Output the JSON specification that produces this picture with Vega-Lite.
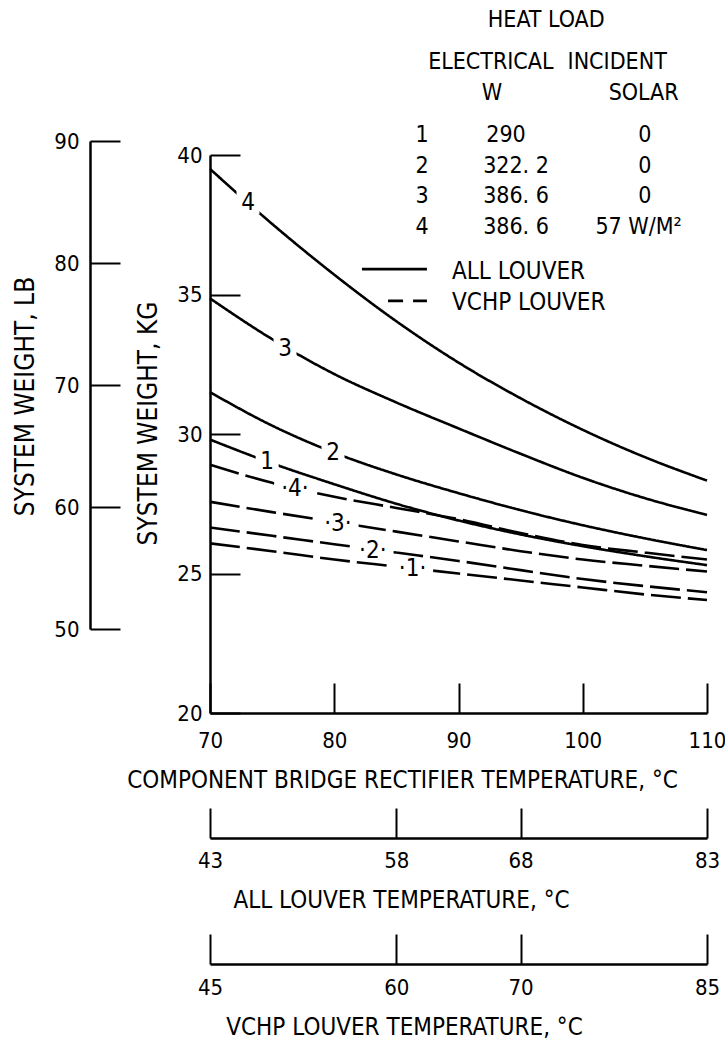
{
  "$schema": "https://vega.github.io/schema/vega-lite/v6.json",
  "width": 497,
  "height": 558,
  "autosize": {"type": "none"},
  "padding": {"left": 210, "top": 155, "right": 18, "bottom": 332},
  "background": "white",
  "config": {
    "view": {"stroke": null},
    "font": "DejaVu Sans Condensed, Liberation Sans Narrow, Roboto, sans-serif",
    "text": {"font": "DejaVu Sans Condensed, Liberation Sans Narrow, Roboto, sans-serif", "color": "black"},
    "axis": {
      "labelFont": "DejaVu Sans Condensed, Liberation Sans Narrow, Roboto, sans-serif",
      "titleFont": "DejaVu Sans Condensed, Liberation Sans Narrow, Roboto, sans-serif",
      "labelColor": "black",
      "titleColor": "black",
      "domainColor": "black",
      "tickColor": "black",
      "grid": false,
      "labelFontSize": 22,
      "titleFontSize": 24,
      "titleFontWeight": "normal",
      "domainWidth": 2.5,
      "tickWidth": 2,
      "labelFlush": false,
      "labelOverlap": false
    }
  },
  "datasets": {
    "curves": [
      {"T": 70, "kg": 39.5, "curve": "S4", "type": "ALL"},
      {"T": 75, "kg": 37.53, "curve": "S4", "type": "ALL"},
      {"T": 80, "kg": 35.71, "curve": "S4", "type": "ALL"},
      {"T": 85, "kg": 34.04, "curve": "S4", "type": "ALL"},
      {"T": 90, "kg": 32.56, "curve": "S4", "type": "ALL"},
      {"T": 95, "kg": 31.28, "curve": "S4", "type": "ALL"},
      {"T": 100, "kg": 30.15, "curve": "S4", "type": "ALL"},
      {"T": 105, "kg": 29.17, "curve": "S4", "type": "ALL"},
      {"T": 110, "kg": 28.33, "curve": "S4", "type": "ALL"},
      {"T": 70, "kg": 34.86, "curve": "S3", "type": "ALL"},
      {"T": 75, "kg": 33.4, "curve": "S3", "type": "ALL"},
      {"T": 80, "kg": 32.15, "curve": "S3", "type": "ALL"},
      {"T": 85, "kg": 31.13, "curve": "S3", "type": "ALL"},
      {"T": 90, "kg": 30.2, "curve": "S3", "type": "ALL"},
      {"T": 95, "kg": 29.29, "curve": "S3", "type": "ALL"},
      {"T": 100, "kg": 28.43, "curve": "S3", "type": "ALL"},
      {"T": 105, "kg": 27.7, "curve": "S3", "type": "ALL"},
      {"T": 110, "kg": 27.1, "curve": "S3", "type": "ALL"},
      {"T": 70, "kg": 31.5, "curve": "S2", "type": "ALL"},
      {"T": 75, "kg": 30.3, "curve": "S2", "type": "ALL"},
      {"T": 80, "kg": 29.33, "curve": "S2", "type": "ALL"},
      {"T": 85, "kg": 28.55, "curve": "S2", "type": "ALL"},
      {"T": 90, "kg": 27.88, "curve": "S2", "type": "ALL"},
      {"T": 95, "kg": 27.27, "curve": "S2", "type": "ALL"},
      {"T": 100, "kg": 26.73, "curve": "S2", "type": "ALL"},
      {"T": 105, "kg": 26.26, "curve": "S2", "type": "ALL"},
      {"T": 110, "kg": 25.84, "curve": "S2", "type": "ALL"},
      {"T": 70, "kg": 29.8, "curve": "S1", "type": "ALL"},
      {"T": 75, "kg": 28.95, "curve": "S1", "type": "ALL"},
      {"T": 80, "kg": 28.2, "curve": "S1", "type": "ALL"},
      {"T": 85, "kg": 27.5, "curve": "S1", "type": "ALL"},
      {"T": 90, "kg": 26.9, "curve": "S1", "type": "ALL"},
      {"T": 95, "kg": 26.4, "curve": "S1", "type": "ALL"},
      {"T": 100, "kg": 25.98, "curve": "S1", "type": "ALL"},
      {"T": 105, "kg": 25.62, "curve": "S1", "type": "ALL"},
      {"T": 110, "kg": 25.3, "curve": "S1", "type": "ALL"},
      {"T": 70, "kg": 28.9, "curve": "D4", "type": "VCHP"},
      {"T": 75, "kg": 28.25, "curve": "D4", "type": "VCHP"},
      {"T": 80, "kg": 27.75, "curve": "D4", "type": "VCHP"},
      {"T": 85, "kg": 27.35, "curve": "D4", "type": "VCHP"},
      {"T": 90, "kg": 26.95, "curve": "D4", "type": "VCHP"},
      {"T": 95, "kg": 26.45, "curve": "D4", "type": "VCHP"},
      {"T": 100, "kg": 26.02, "curve": "D4", "type": "VCHP"},
      {"T": 105, "kg": 25.75, "curve": "D4", "type": "VCHP"},
      {"T": 110, "kg": 25.5, "curve": "D4", "type": "VCHP"},
      {"T": 70, "kg": 27.57, "curve": "D3", "type": "VCHP"},
      {"T": 75, "kg": 27.2, "curve": "D3", "type": "VCHP"},
      {"T": 80, "kg": 26.85, "curve": "D3", "type": "VCHP"},
      {"T": 85, "kg": 26.5, "curve": "D3", "type": "VCHP"},
      {"T": 90, "kg": 26.15, "curve": "D3", "type": "VCHP"},
      {"T": 95, "kg": 25.8, "curve": "D3", "type": "VCHP"},
      {"T": 100, "kg": 25.5, "curve": "D3", "type": "VCHP"},
      {"T": 105, "kg": 25.28, "curve": "D3", "type": "VCHP"},
      {"T": 110, "kg": 25.07, "curve": "D3", "type": "VCHP"},
      {"T": 70, "kg": 26.65, "curve": "D2", "type": "VCHP"},
      {"T": 75, "kg": 26.35, "curve": "D2", "type": "VCHP"},
      {"T": 80, "kg": 26.05, "curve": "D2", "type": "VCHP"},
      {"T": 85, "kg": 25.75, "curve": "D2", "type": "VCHP"},
      {"T": 90, "kg": 25.45, "curve": "D2", "type": "VCHP"},
      {"T": 95, "kg": 25.12, "curve": "D2", "type": "VCHP"},
      {"T": 100, "kg": 24.8, "curve": "D2", "type": "VCHP"},
      {"T": 105, "kg": 24.55, "curve": "D2", "type": "VCHP"},
      {"T": 110, "kg": 24.33, "curve": "D2", "type": "VCHP"},
      {"T": 70, "kg": 26.08, "curve": "D1", "type": "VCHP"},
      {"T": 75, "kg": 25.8, "curve": "D1", "type": "VCHP"},
      {"T": 80, "kg": 25.5, "curve": "D1", "type": "VCHP"},
      {"T": 85, "kg": 25.25, "curve": "D1", "type": "VCHP"},
      {"T": 90, "kg": 25.0, "curve": "D1", "type": "VCHP"},
      {"T": 95, "kg": 24.75, "curve": "D1", "type": "VCHP"},
      {"T": 100, "kg": 24.5, "curve": "D1", "type": "VCHP"},
      {"T": 105, "kg": 24.25, "curve": "D1", "type": "VCHP"},
      {"T": 110, "kg": 24.05, "curve": "D1", "type": "VCHP"}
    ],
    "labels": [
      {"T": 73.06, "kg": 38.3, "lab": "4", "type": "ALL"},
      {"T": 76.04, "kg": 33.07, "lab": "3", "type": "ALL"},
      {"T": 79.9, "kg": 29.35, "lab": "2", "type": "ALL"},
      {"T": 74.6, "kg": 29.05, "lab": "1", "type": "ALL"},
      {"T": 76.84, "kg": 28.05, "lab": "·4·", "type": "VCHP"},
      {"T": 80.3, "kg": 26.82, "lab": "·3·", "type": "VCHP"},
      {"T": 83.1, "kg": 25.85, "lab": "·2·", "type": "VCHP"},
      {"T": 86.3, "kg": 25.18, "lab": "·1·", "type": "VCHP"}
    ],
    "table": [
      {"T": 97.06, "kg": 44.84, "txt": "HEAT LOAD"},
      {"T": 92.6, "kg": 43.33, "txt": "ELECTRICAL"},
      {"T": 102.77, "kg": 43.33, "txt": "INCIDENT"},
      {"T": 92.7, "kg": 42.22, "txt": "W"},
      {"T": 104.9, "kg": 42.22, "txt": "SOLAR"},
      {"T": 87.06, "kg": 40.72, "txt": "1"},
      {"T": 93.82, "kg": 40.72, "txt": "290"},
      {"T": 105.0, "kg": 40.72, "txt": "0"},
      {"T": 87.06, "kg": 39.61, "txt": "2"},
      {"T": 94.63, "kg": 39.61, "txt": "322. 2"},
      {"T": 105.0, "kg": 39.61, "txt": "0"},
      {"T": 87.06, "kg": 38.53, "txt": "3"},
      {"T": 94.63, "kg": 38.53, "txt": "386. 6"},
      {"T": 105.0, "kg": 38.53, "txt": "0"},
      {"T": 87.06, "kg": 37.42, "txt": "4"},
      {"T": 94.63, "kg": 37.42, "txt": "386. 6"},
      {"T": 104.5, "kg": 37.42, "txt": "57 W/M²"}
    ],
    "legendText": [
      {"T": 89.48, "kg": 35.82, "txt": "ALL LOUVER"},
      {"T": 89.48, "kg": 34.7, "txt": "VCHP LOUVER"}
    ],
    "legendLines": [
      {"T": 82.23, "kg": 35.91, "type": "ALL"},
      {"T": 87.46, "kg": 35.91, "type": "ALL"},
      {"T": 84.33, "kg": 34.77, "type": "VCHP"},
      {"T": 87.46, "kg": 34.77, "type": "VCHP"}
    ],
    "lbAxis": [{"lb": 50}, {"lb": 90}],
    "allAxis": [{"allT": 43}, {"allT": 83}],
    "vchpAxis": [{"vchpT": 45}, {"vchpT": 85}]
  },
  "layer": [
    {
      "encoding": {
        "x": {
          "field": "T",
          "type": "quantitative",
          "scale": {"domain": [70, 110], "nice": false, "zero": false},
          "axis": {
            "orient": "bottom",
            "values": [70, 80, 90, 100, 110],
            "tickSize": -30,
            "labelPadding": 57,
            "labelBaseline": "middle",
            "title": "COMPONENT BRIDGE RECTIFIER TEMPERATURE, °C",
            "titleX": 192,
            "titleY": 67,
            "titleAlign": "center",
            "titleBaseline": "middle"
          }
        },
        "y": {
          "field": "kg",
          "type": "quantitative",
          "scale": {"domain": [20, 40], "nice": false, "zero": false},
          "axis": {
            "orient": "left",
            "values": [20, 25, 30, 35, 40],
            "tickSize": -30,
            "labelPadding": 38,
            "labelBaseline": "middle",
            "title": "SYSTEM WEIGHT, KG",
            "titleFontSize": 26,
            "titleX": -62,
            "titleY": 268,
            "titleAngle": 270,
            "titleAlign": "center",
            "titleBaseline": "middle"
          }
        }
      },
      "layer": [
        {
          "data": {"name": "curves"},
          "mark": {"type": "line", "color": "black", "strokeWidth": 2.6, "interpolate": "monotone"},
          "encoding": {
            "detail": {"field": "curve", "type": "nominal"},
            "strokeDash": {
              "field": "type",
              "type": "nominal",
              "scale": {"domain": ["ALL", "VCHP"], "range": [[1, 0], [30, 7]]},
              "legend": null
            }
          }
        },
        {
          "data": {"name": "labels"},
          "transform": [{"filter": "datum.type === 'ALL'"}],
          "mark": {"type": "point", "shape": "square", "filled": true, "color": "white", "opacity": 1, "size": 529}
        },
        {
          "data": {"name": "labels"},
          "transform": [{"filter": "datum.type === 'VCHP'"}],
          "mark": {"type": "point", "shape": "M-1,-0.45H1V0.45H-1Z", "filled": true, "color": "white", "opacity": 1, "size": 1700}
        },
        {
          "data": {"name": "labels"},
          "mark": {"type": "text", "fontSize": 24, "baseline": "middle", "align": "center", "dy": 1},
          "encoding": {"text": {"field": "lab"}}
        },
        {
          "data": {"name": "table"},
          "mark": {"type": "text", "fontSize": 23, "baseline": "middle", "align": "center"},
          "encoding": {"text": {"field": "txt"}}
        },
        {
          "data": {"name": "legendText"},
          "mark": {"type": "text", "fontSize": 24, "baseline": "middle", "align": "left"},
          "encoding": {"text": {"field": "txt"}}
        },
        {
          "data": {"name": "legendLines"},
          "transform": [{"filter": "datum.type === 'ALL'"}],
          "mark": {"type": "line", "color": "black", "strokeWidth": 2.6},
          "encoding": {}
        },
        {
          "data": {"name": "legendLines"},
          "transform": [{"filter": "datum.type === 'VCHP'"}],
          "mark": {"type": "line", "color": "black", "strokeWidth": 2.6, "strokeDash": [15, 10]},
          "encoding": {}
        }
      ]
    },
    {
      "data": {"name": "lbAxis"},
      "mark": {"type": "point", "opacity": 0},
      "encoding": {
        "y": {
          "field": "lb",
          "type": "quantitative",
          "scale": {"domain": [50, 90], "range": [474, -14], "nice": false, "zero": false},
          "axis": {
            "orient": "left",
            "offset": 120,
            "values": [50, 60, 70, 80, 90],
            "tickSize": -30,
            "labelPadding": 41,
            "labelBaseline": "middle",
            "title": "SYSTEM WEIGHT, LB",
            "titleFontSize": 26,
            "titleX": -65,
            "titleY": 241,
            "titleAngle": 270,
            "titleAlign": "center",
            "titleBaseline": "middle"
          }
        }
      }
    },
    {
      "data": {"name": "allAxis"},
      "mark": {"type": "point", "opacity": 0},
      "encoding": {
        "x": {
          "field": "allT",
          "type": "quantitative",
          "scale": {"domain": [43, 83], "nice": false, "zero": false},
          "axis": {
            "orient": "bottom",
            "offset": 125,
            "values": [43, 58, 68, 83],
            "tickSize": -30,
            "labelPadding": 52,
            "labelBaseline": "middle",
            "title": "ALL LOUVER TEMPERATURE, °C",
            "titleX": 191,
            "titleY": 62,
            "titleAlign": "center",
            "titleBaseline": "middle"
          }
        }
      }
    },
    {
      "data": {"name": "vchpAxis"},
      "mark": {"type": "point", "opacity": 0},
      "encoding": {
        "x": {
          "field": "vchpT",
          "type": "quantitative",
          "scale": {"domain": [45, 85], "nice": false, "zero": false},
          "axis": {
            "orient": "bottom",
            "offset": 251,
            "values": [45, 60, 70, 85],
            "tickSize": -30,
            "labelPadding": 53,
            "labelBaseline": "middle",
            "title": "VCHP LOUVER TEMPERATURE, °C",
            "titleX": 194,
            "titleY": 63,
            "titleAlign": "center",
            "titleBaseline": "middle"
          }
        }
      }
    }
  ],
  "resolve": {
    "scale": {"x": "independent", "y": "independent"},
    "axis": {"x": "independent", "y": "independent"}
  }
}
